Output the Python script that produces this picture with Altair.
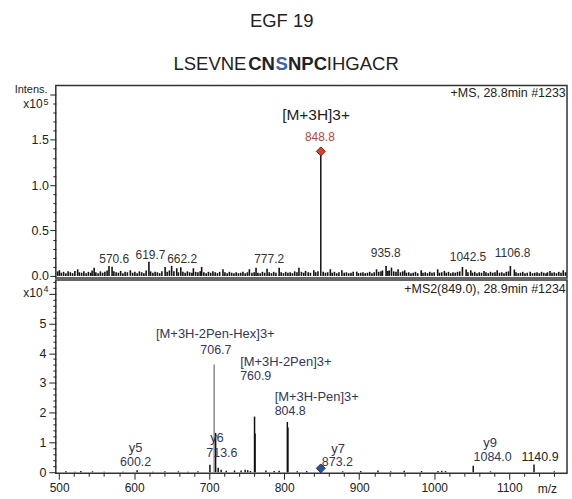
import altair as alt
import pandas as pd

FONT = "Liberation Sans"

# ---------------- data ----------------
# MS1 spectrum (intensity in units of 1e5)
top_noise = [
    (498, .05), (500.4, .062), (503, .035), (506, .045), (509, .03), (512, .05), (515, .04), (518, .03),
    (521, .055), (524.7, .073), (527, .04), (530, .035), (533, .05), (536, .03), (539, .045), (542, .035),
    (544, .06), (546.7, .091), (549, .04), (552, .03), (555, .05), (558, .035), (561, .045), (564, .06),
    (566.5, .11), (570.6, .10), (573, .05), (576, .04), (579, .035), (582, .055), (585, .03), (588, .045),
    (591, .04), (595, .062), (598, .035), (601, .045), (604, .03), (607, .05), (610, .04), (613, .03),
    (616, .06), (619.7, .157), (622, .05), (625, .035), (628, .045), (631, .04), (634, .03), (637, .05),
    (641.3, .099), (644, .045), (647, .06), (650, .11), (653, .05), (656.8, .084), (659, .04), (662.2, .095),
    (665, .045), (668, .035), (671, .05), (674, .04), (677, .035), (679, .084), (682, .045), (685, .04),
    (688, .05), (690, .099), (693, .04), (696, .03), (699, .045), (702, .035), (705, .05), (708, .04),
    (711, .03), (714, .045), (718.4, .073), (721, .04), (724, .03), (727, .045), (730, .035), (733, .03),
    (736, .04), (739, .03), (742, .035), (745, .045), (748, .03), (751, .04), (753.6, .073), (757, .035),
    (760, .04), (762.5, .091), (765, .035), (768, .03), (771, .045), (774, .035), (777.2, .08), (780, .04),
    (783, .03), (786, .045), (789, .035), (793.3, .091), (796, .04), (799, .03), (802, .045), (805, .035),
    (808, .04), (811, .03), (814, .05), (817, .04), (819.7, .091), (823, .045), (826, .035), (828.5, .055),
    (832, .04), (835, .035), (839.5, .062), (842, .04), (845, .05), (852, .045), (855, .035), (858, .04),
    (861.5, .073), (864, .035), (867, .045), (870, .03), (873, .04), (876.9, .062), (880, .035), (883, .04),
    (886, .03), (889, .035), (892, .045), (896.7, .047), (899, .03), (902, .035), (905, .04), (908, .03),
    (911, .035), (914, .045), (917, .03), (920, .04), (923.1, .073), (926, .045), (929, .05), (931, .06),
    (935.8, .11), (938, .055), (940, .06), (943, .091), (946, .05), (949, .045), (951.8, .073), (955, .04),
    (958, .05), (960.6, .062), (963, .035), (966, .04), (969, .03), (972, .035), (975, .045), (978, .03),
    (982.6, .062), (985, .035), (988, .04), (991, .03), (994, .045), (997, .035), (1000, .04), (1004.6, .073),
    (1007, .035), (1010, .04), (1013.5, .055), (1016, .035), (1019, .045), (1022, .03), (1025, .04), (1028, .035),
    (1031, .045), (1034, .05), (1037.6, .099), (1042.5, .07), (1045, .04), (1048.7, .062), (1051, .035), (1054, .045),
    (1057, .03), (1060, .04), (1063, .035), (1066.3, .055), (1069, .04), (1072, .03), (1075, .045), (1078, .035),
    (1081, .04), (1083.9, .062), (1087, .035), (1090, .04), (1093, .03), (1096, .045), (1099, .05), (1101.5, .11),
    (1106.8, .07), (1109, .04), (1112, .03), (1115, .035), (1118, .045), (1121, .03), (1124, .035), (1127.9, .047),
    (1131, .03), (1134, .035), (1137, .04), (1140, .03), (1143, .045), (1146, .035), (1149, .03), (1151, .04),
    (1154.3, .055), (1157, .035), (1160, .04), (1163, .03), (1166, .045), (1169, .035), (1172, .062), (1175, .04),
]
precursor_mz = [848.8]
precursor_int = [1.372]

top_label_text = ["570.6", "619.7", "662.2", "777.2", "935.8", "1042.5", "1106.8"]
top_label_mz = [573.5, 621.8, 664.0, 780.0, 935.4, 1045.0, 1104.4]
top_label_y = [0.19, 0.23, 0.19, 0.19, 0.247, 0.21, 0.247]

# MS2 spectrum (intensity in units of 1e4)
bot_peaks = [
    (509, .03), (521, .02), (529, .04), (544.5, .03), (560, .02), (585, .02), (604, .07), (625, .02),
    (641, .03), (659, .03), (672, .02), (685, .03), (701, .25), (708.6, 1.32), (712, .15), (716, .08),
    (722.8, .05), (733.8, .06), (742.6, .06), (748, .08), (751.4, .07), (755, .04), (760.5, 1.87), (761.2, 1.3),
    (775.7, .06), (786.7, .04), (793.3, .05), (804.2, 1.69), (805.0, 1.5), (817.4, .03), (830, .04), (848.8, .13),
    (878, .03), (902, .04), (925, .06), (942, .03), (960, .05), (983, .04), (1005, .04), (1010, .05),
    (1015, .04), (1052, .22), (1075, .03), (1133, .26), (1160, .03),
]
bot_main_mz = [706.7]
bot_main_int = [3.62]
bot_precursor_mz = [848.8]
bot_precursor_int = [0.13]

bot_center_text = ["[M+3H-2Pen-Hex]3+", "706.7", "y5", "600.2", "y6", "713.6", "y7", "873.2", "y9", "1084.0"]
bot_center_mz = [708.2, 709.0, 602.0, 602.0, 710.4, 717.0, 872.0, 870.9, 1074.5, 1077.8]
bot_center_y = [4.65, 4.12, 0.80, 0.345, 1.14, 0.63, 0.79, 0.345, 0.97, 0.51]
bot_center_size = [13, 12.5, 13, 12.5, 13, 12.5, 13, 12.5, 13, 12.5]

bot_left_text = ["[M+3H-2Pen]3+", "760.9", "[M+3H-Pen]3+", "804.8"]
bot_left_mz = [741.3, 741.3, 787.3, 787.3]
bot_left_y = [3.69, 3.22, 2.52, 2.05]
bot_left_size = [13, 12.5, 13, 12.5]

bot_black_text = ["1140.9"]
bot_black_mz = [1141.0]
bot_black_y = [0.51]

top_ticks = [i / 10 for i in range(21)]
bot_ticks = [i / 5 for i in range(33)]
x_ticks = list(range(500, 1161, 20))

# ---------------- layout ----------------
W = 513
H_TOP = 193
H_BOT = 194

XS = alt.Scale(domain=[495.6, 1177], nice=False, zero=False)
YT = alt.Scale(domain=[-0.022, 2.097], nice=False, zero=False)
YB = alt.Scale(domain=[-0.033, 6.46], nice=False, zero=False)

Y_AX_TOP = alt.Axis(
    values=top_ticks, title=None, grid=False, domain=False,
    labelExpr="indexof([0, 0.5, 1, 1.5], datum.value) >= 0 ? format(datum.value, '.1f') : ''",
    tickSize={"condition": {"test": "indexof([0, 0.5, 1, 1.5, 2], datum.value) >= 0", "value": 6}, "value": 3},
    tickColor="#222", labelColor="#222", labelFont=FONT, labelFontSize=12.5,
    labelPadding=1.5, labelOverlap=False, labelFlush=False,
)
Y_AX_BOT = alt.Axis(
    values=bot_ticks, title=None, grid=False, domain=False,
    labelExpr="(datum.value == round(datum.value) && datum.value <= 5) ? format(datum.value, 'd') : ''",
    tickSize={"condition": {"test": "datum.value == round(datum.value)", "value": 7}, "value": 3},
    tickColor="#222", labelColor="#222", labelFont=FONT, labelFontSize=12.5,
    labelPadding=3, labelOverlap=False, labelFlush=False,
)
X_AX_BOT = alt.Axis(
    values=x_ticks, title=None, grid=False, domain=False, format="d",
    labelExpr="datum.value % 100 == 0 ? datum.label : ''",
    tickSize={"condition": {"test": "datum.value % 100 == 0", "value": 6}, "value": 3},
    tickColor="#222", labelColor="#222", labelFont=FONT, labelFontSize=12,
    labelPadding=3, labelOverlap=False, labelFlush=False,
)


def txt(text, x, y, size=12, color="#222", align="left", weight="normal"):
    return alt.Chart(pd.DataFrame({"t": [text]})).mark_text(
        align=align, baseline="alphabetic", fontSize=size, color=color,
        fontWeight=weight, font=FONT,
    ).encode(x=alt.value(x), y=alt.value(y), text="t:N")


def bounds_rule(y):
    return alt.Chart(pd.DataFrame({"a": [0]})).mark_rule(opacity=0).encode(
        x=alt.value(-55), x2=alt.value(517), y=alt.value(y)
    )


# ---------------- top panel (MS) ----------------
df_top = pd.DataFrame(top_noise, columns=["mz", "h"])
df_prec = pd.DataFrame({"mz": precursor_mz, "h": precursor_int})
df_top_lab = pd.DataFrame({"mz": top_label_mz, "y": top_label_y, "t": top_label_text})

xt = alt.X("mz:Q", scale=XS, axis=None)
yt = alt.Y("h:Q", scale=YT, axis=Y_AX_TOP)

top_noise_layer = alt.Chart(df_top).mark_rule(color="#111", strokeWidth=1.6).encode(
    x=xt, y=yt, y2=alt.datum(0)
)
top_prec_rule = alt.Chart(df_prec).mark_rule(color="#111", strokeWidth=1.5).encode(
    x=xt, y=yt, y2=alt.datum(0)
)
top_prec_pt = alt.Chart(df_prec).mark_point(
    shape="diamond", filled=True, fill="#e0402a", stroke="#6a1a10", strokeWidth=1, size=80, opacity=1
).encode(x=xt, y=yt)
top_labels = alt.Chart(df_top_lab).mark_text(
    baseline="middle", align="center", font=FONT, fontSize=12, color="#333"
).encode(x=xt, y=alt.Y("y:Q", scale=YT, axis=Y_AX_TOP), text="t:N")

top_prec_labels = alt.Chart(pd.DataFrame({
    "mz": [842.5, 847.6], "y": [1.775, 1.528], "t": ["[M+3H]3+", "848.8"],
    "c": ["a", "b"],
})).mark_text(baseline="middle", align="center", font=FONT).encode(
    x=xt, y=alt.Y("y:Q", scale=YT, axis=Y_AX_TOP), text="t:N",
    color=alt.Color("c:N", scale=alt.Scale(domain=["a", "b"], range=["#222", "#b5473f"]), legend=None),
    size=alt.Size("c:N", scale=alt.Scale(domain=["a", "b"], range=[15.5, 12]), legend=None),
)

top = alt.layer(
    top_noise_layer, top_prec_rule, top_prec_pt, top_labels, top_prec_labels,
    txt("+MS, 28.8min #1233", 511.7, 11, size=12.5, align="right"),
    txt("Intens.", -8.3, 7, size=11, align="right"),
    txt("x10", -13.3, 23, size=12, align="right"),
    txt("5", -12.3, 19, size=9),
    txt("EGF 19", 226.7, -59, size=18.5, align="center"),
    txt("LSEVNE", 118, -16, size=18.6),
    txt("CN", 193, -16, size=18.6, weight="bold"),
    txt("S", 220.5, -16, size=18.6, weight="bold", color="#3f5fb0"),
    txt("NPC", 233, -16, size=18.6, weight="bold"),
    txt("IHGACR", 272, -16, size=18.6),
    bounds_rule(-84),
).properties(width=W, height=H_TOP)

# ---------------- bottom panel (MS2) ----------------
df_bot = pd.DataFrame(bot_peaks, columns=["mz", "h"])
df_bmain = pd.DataFrame({"mz": bot_main_mz, "h": bot_main_int})
df_bprec = pd.DataFrame({"mz": bot_precursor_mz, "h": bot_precursor_int})
df_bc = pd.DataFrame({"mz": bot_center_mz, "y": bot_center_y, "t": bot_center_text, "s": bot_center_size})
df_bl = pd.DataFrame({"mz": bot_left_mz, "y": bot_left_y, "t": bot_left_text, "s": bot_left_size})
df_bk = pd.DataFrame({"mz": bot_black_mz, "y": bot_black_y, "t": bot_black_text})

xb = alt.X("mz:Q", scale=XS, axis=X_AX_BOT)
yb = alt.Y("h:Q", scale=YB, axis=Y_AX_BOT)
yl = alt.Y("y:Q", scale=YB, axis=Y_AX_BOT)
NAVY = "#30385a"

bot_peaks_layer = alt.Chart(df_bot).mark_rule(color="#111", strokeWidth=1.5).encode(
    x=xb, y=yb, y2=alt.datum(0)
)
bot_main_layer = alt.Chart(df_bmain).mark_rule(color="#8a8a8a", strokeWidth=1.5).encode(
    x=xb, y=yb, y2=alt.datum(0)
)
bot_prec_pt = alt.Chart(df_bprec).mark_point(
    shape="diamond", filled=True, fill="#2f4f9f", stroke="#1d2d5f", strokeWidth=1, size=80, opacity=1
).encode(x=xb, y=yb)
bot_center = alt.Chart(df_bc).mark_text(baseline="middle", align="center", font=FONT, color=NAVY).encode(
    x=xb, y=yl, text="t:N", size=alt.Size("s:Q", scale=None, legend=None)
)
bot_left = alt.Chart(df_bl).mark_text(baseline="middle", align="left", font=FONT, color=NAVY).encode(
    x=xb, y=yl, text="t:N", size=alt.Size("s:Q", scale=None, legend=None)
)
bot_black = alt.Chart(df_bk).mark_text(baseline="middle", align="center", font=FONT, fontSize=12.5, color="#222").encode(
    x=xb, y=yl, text="t:N"
)

bottom = alt.layer(
    bot_peaks_layer, bot_main_layer, bot_prec_pt, bot_center, bot_left, bot_black,
    txt("+MS2(849.0), 28.9min #1234", 511.7, 12.7, size=12.5, align="right"),
    txt("x10", -13.3, 17, size=12, align="right"),
    txt("4", -12.3, 12, size=9),
    txt("m/z", 503, 214, size=12, align="right"),
    bounds_rule(220),
).properties(width=W, height=H_BOT)

chart = alt.vconcat(top, bottom, spacing=2, bounds="flush").properties(
    padding=0, background="white"
).configure_view(stroke="#333", strokeWidth=1.5).resolve_scale(color="independent", size="independent")

chart.save("out.html", embed_options={"renderer": "svg", "actions": False})
